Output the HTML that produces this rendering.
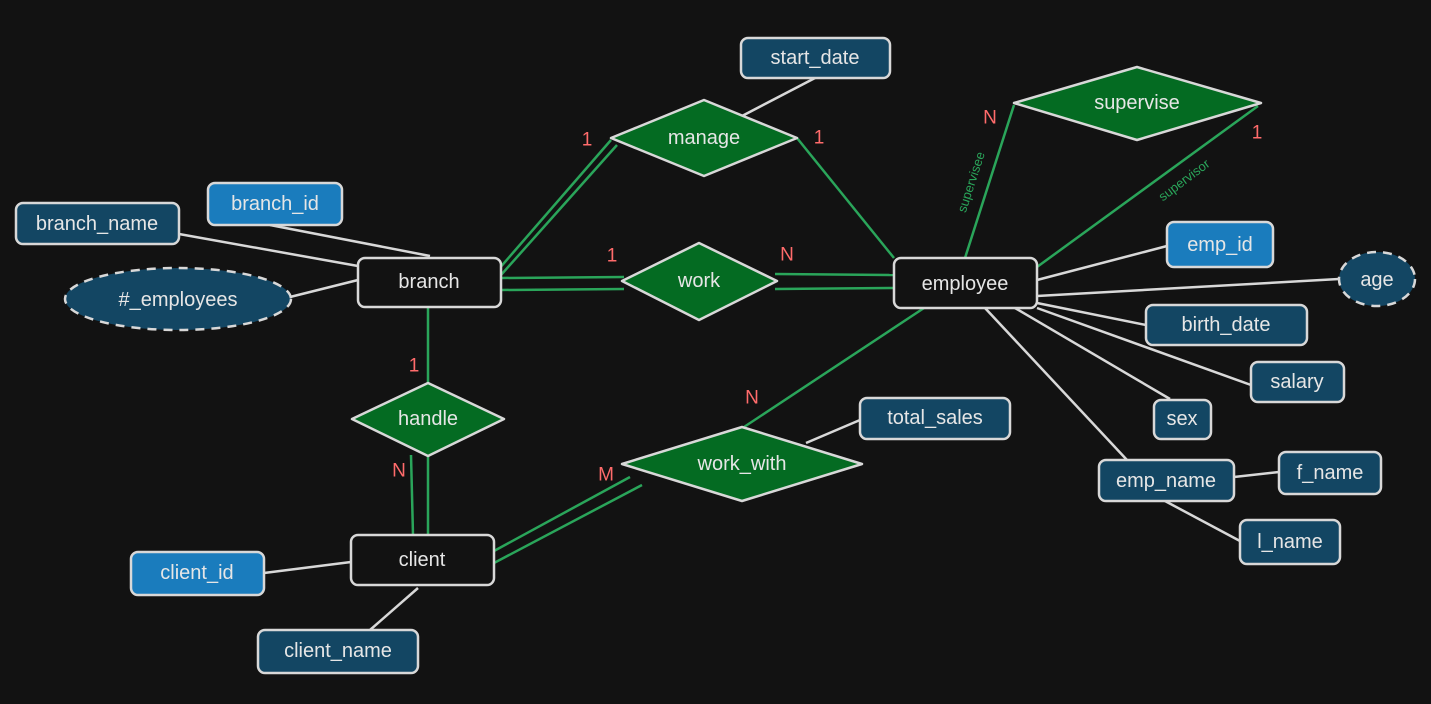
<!DOCTYPE html>
<html><head><meta charset="utf-8"><style>
html,body{margin:0;padding:0;background:#121212;}
svg{display:block}
text{font-family:"Liberation Sans",sans-serif;fill:#e6e6e6;text-anchor:middle;dominant-baseline:central;font-size:20px}
.n{fill:#ff6b6b;font-size:19px}
.r{fill:#2aa55a;font-size:13px}
</style></head><body>
<svg width="1431" height="704" viewBox="0 0 1431 704">
<g stroke="#d8d8d8" stroke-width="2.5" fill="none">
<line x1="815" y1="78" x2="742" y2="116"/>
<line x1="179" y1="234" x2="358" y2="266"/>
<line x1="270" y1="225" x2="430" y2="256"/>
<line x1="290" y1="297" x2="358" y2="280"/>
<line x1="1037" y1="280" x2="1167" y2="246"/>
<line x1="1037" y1="296" x2="1339" y2="279"/>
<line x1="1037" y1="303" x2="1146" y2="325"/>
<line x1="1037" y1="308" x2="1251" y2="385"/>
<line x1="1015" y1="308" x2="1170" y2="399"/>
<line x1="985" y1="308" x2="1127" y2="460"/>
<line x1="965" y1="308" x2="940" y2="320" stroke-width="0"/>
<line x1="1234" y1="477" x2="1279" y2="472"/>
<line x1="1165" y1="501" x2="1240" y2="541"/>
<line x1="806" y1="443" x2="860" y2="420"/>
<line x1="264" y1="573" x2="351" y2="562"/>
<line x1="418" y1="588" x2="370" y2="630"/>
</g>
<g stroke="#2aa55a" stroke-width="2.5" fill="none">
<line x1="498" y1="270" x2="611" y2="140"/>
<line x1="501" y1="275" x2="617" y2="145"/>
<line x1="797" y1="138" x2="894" y2="258"/>
<line x1="501" y1="278" x2="624" y2="277"/>
<line x1="501" y1="290" x2="624" y2="289"/>
<line x1="775" y1="274" x2="894" y2="275"/>
<line x1="775" y1="289" x2="894" y2="288"/>
<line x1="965" y1="258" x2="1014" y2="105"/>
<line x1="1037" y1="267" x2="1258" y2="106"/>
<line x1="924" y1="308" x2="744" y2="427"/>
<line x1="428" y1="307" x2="428" y2="383"/>
<line x1="411" y1="455" x2="413" y2="535"/>
<line x1="428" y1="455" x2="428" y2="535"/>
<line x1="494" y1="551" x2="630" y2="477"/>
<line x1="494" y1="563" x2="642" y2="485"/>
</g>
<g stroke="#d8d8d8" stroke-width="2.5">
<path d="M611,138 L704,100 L797,138 L704,176 Z" fill="#046b22" stroke-linejoin="round"/>
<path d="M1014,103 L1137,67 L1261,103 L1137,140 Z" fill="#046b22" stroke-linejoin="round"/>
<path d="M622,281 L699,243 L777,281 L699,320 Z" fill="#046b22" stroke-linejoin="round"/>
<path d="M352,419 L428,383 L504,419 L428,456 Z" fill="#046b22" stroke-linejoin="round"/>
<path d="M622,464 L742,427 L862,464 L742,501 Z" fill="#046b22" stroke-linejoin="round"/>
<rect x="741" y="38" width="149" height="40" rx="7" fill="#134663"/>
<rect x="208" y="183" width="134" height="42" rx="7" fill="#1a7cbd"/>
<rect x="16" y="203" width="163" height="41" rx="7" fill="#134663"/>
<rect x="358" y="258" width="143" height="49" rx="7" fill="#121212"/>
<ellipse cx="178" cy="299" rx="113" ry="31" fill="#134663" stroke-dasharray="9 7"/>
<rect x="894" y="258" width="143" height="50" rx="7" fill="#121212"/>
<rect x="1167" y="222" width="106" height="45" rx="7" fill="#1a7cbd"/>
<ellipse cx="1377" cy="279" rx="38" ry="27" fill="#134663" stroke-dasharray="9 7"/>
<rect x="1146" y="305" width="161" height="40" rx="7" fill="#134663"/>
<rect x="1251" y="362" width="93" height="40" rx="7" fill="#134663"/>
<rect x="1154" y="400" width="57" height="39" rx="7" fill="#134663"/>
<rect x="1099" y="460" width="135" height="41" rx="7" fill="#134663"/>
<rect x="1279" y="452" width="102" height="42" rx="7" fill="#134663"/>
<rect x="1240" y="520" width="100" height="44" rx="7" fill="#134663"/>
<rect x="860" y="398" width="150" height="41" rx="7" fill="#134663"/>
<rect x="351" y="535" width="143" height="50" rx="7" fill="#121212"/>
<rect x="131" y="552" width="133" height="43" rx="7" fill="#1a7cbd"/>
<rect x="258" y="630" width="160" height="43" rx="7" fill="#134663"/>
</g>
<text x="815" y="58">start_date</text>
<text x="704" y="138">manage</text>
<text x="1137" y="103">supervise</text>
<text x="275" y="204">branch_id</text>
<text x="97" y="224">branch_name</text>
<text x="429" y="282">branch</text>
<text x="178" y="300">#_employees</text>
<text x="699" y="281">work</text>
<text x="965" y="284">employee</text>
<text x="1220" y="245">emp_id</text>
<text x="1377" y="280">age</text>
<text x="1226" y="325">birth_date</text>
<text x="1297" y="382">salary</text>
<text x="1182" y="419">sex</text>
<text x="1166" y="481">emp_name</text>
<text x="1330" y="473">f_name</text>
<text x="1290" y="542">l_name</text>
<text x="935" y="418">total_sales</text>
<text x="428" y="419">handle</text>
<text x="742" y="464">work_with</text>
<text x="422" y="560">client</text>
<text x="197" y="573">client_id</text>
<text x="338" y="651">client_name</text>
<text class="n" x="587" y="140">1</text>
<text class="n" x="819" y="138">1</text>
<text class="n" x="612" y="256">1</text>
<text class="n" x="787" y="255">N</text>
<text class="n" x="990" y="118">N</text>
<text class="n" x="1257" y="133">1</text>
<text class="n" x="414" y="366">1</text>
<text class="n" x="399" y="471">N</text>
<text class="n" x="752" y="398">N</text>
<text class="n" x="606" y="475">M</text>
<text class="r" x="971" y="182" transform="rotate(-72 971 182)">supervisee</text>
<text class="r" x="1184" y="180" transform="rotate(-37 1184 180)">supervisor</text>
</svg>
</body></html>
